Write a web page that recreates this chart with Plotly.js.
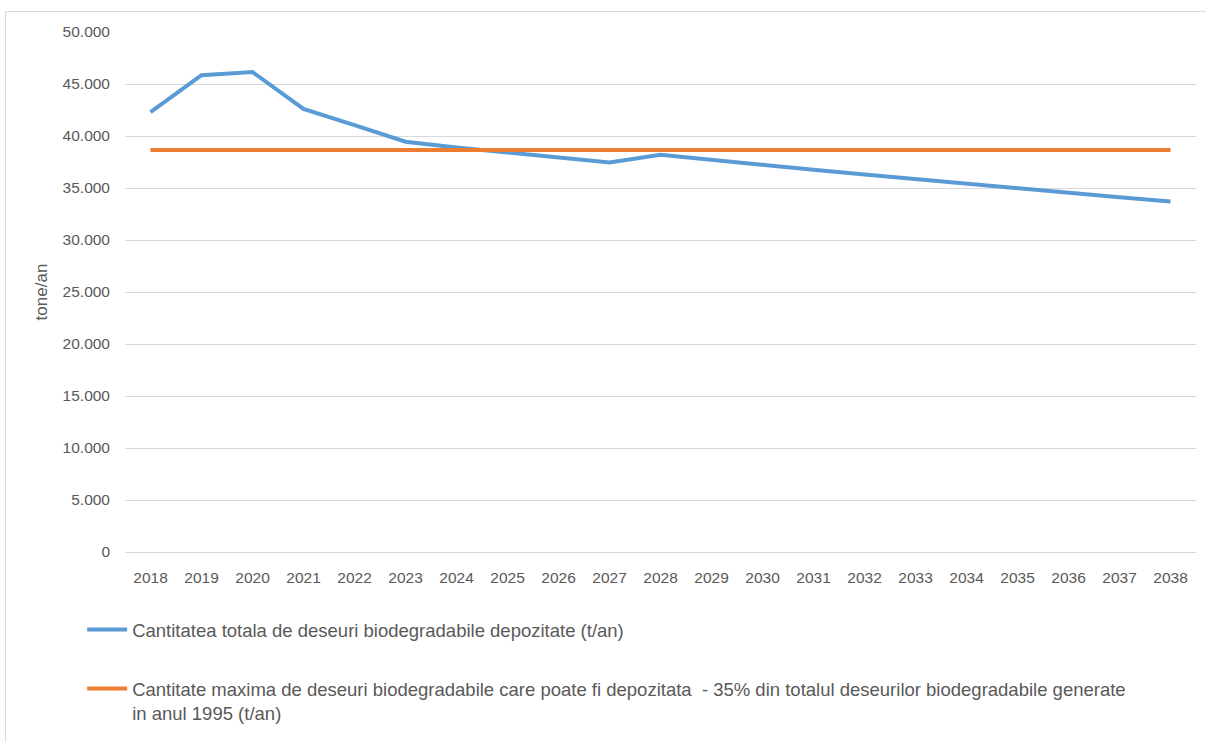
<!DOCTYPE html>
<html>
<head>
<meta charset="utf-8">
<script src="https://cdn.plot.ly/plotly-3.0.1.min.js"></script>
<style>
  html, body { margin: 0; padding: 0; background: #fff; }
  #frame { position: absolute; left: 5px; top: 11px; width: 1210px; height: 740px; border-left: 1px solid #d9d9d9; border-top: 1px solid #d9d9d9; }
  #chart { position: absolute; left: 0; top: 0; width: 1206px; height: 742px; }
</style>
</head>
<body>
<div id="frame"></div>
<div id="chart"></div>
<script>
const years = ['2018','2019','2020','2021','2022','2023','2024','2025','2026','2027','2028',
               '2029','2030','2031','2032','2033','2034','2035','2036','2037','2038'];
const totalDeposited = [42300, 45850, 46150, 42600, 41050, 39450, 38900, 38400, 37900, 37450, 38200,
                        37700, 37250, 36750, 36300, 35850, 35400, 34950, 34500, 34100, 33700];
const maxAllowed = [38650, 38650, 38650, 38650, 38650, 38650, 38650, 38650, 38650, 38650, 38650,
                    38650, 38650, 38650, 38650, 38650, 38650, 38650, 38650, 38650, 38650];
const seriesNames = [
  'Cantitatea totala de deseuri biodegradabile depozitate (t/an)',
  'Cantitate maxima de deseuri biodegradabile care poate fi depozitata \u00a0- 35% din totalul deseurilor biodegradabile generate<br>in anul 1995 (t/an)'
];
const yTicks = [0, 5000, 10000, 15000, 20000, 25000, 30000, 35000, 40000, 45000, 50000];

const fontFam = 'Liberation Sans, Arial, sans-serif';
const txtCol = '#595959';

const traces = [
  { x: years, y: totalDeposited, name: seriesNames[0], type: 'scatter', mode: 'lines',
    legendgroup: 'a', line: { color: '#5b9bd5', width: 4, shape: 'linear' } },
  { x: years, y: maxAllowed, name: seriesNames[1], type: 'scatter', mode: 'lines',
    legendgroup: 'b', line: { color: '#ed7d31', width: 4 } }
];

const layout = {
  width: 1206, height: 742,
  margin: { l: 125, r: 10, t: 32, b: 190 },
  paper_bgcolor: 'rgba(0,0,0,0)', plot_bgcolor: 'rgba(0,0,0,0)',
  separators: ',.',
  font: { family: fontFam, color: txtCol, size: 15 },
  showlegend: true,
  xaxis: {
    type: 'category', tickmode: 'array', tickvals: years, ticktext: years,
    showgrid: false, zeroline: false, showline: true, linecolor: '#d9d9d9', linewidth: 1,
    ticks: '', ticklabelstandoff: 11, tickfont: { size: 15.5, color: txtCol },
    range: [-0.5, years.length - 0.5], fixedrange: true
  },
  yaxis: {
    range: [0, 50000], tickmode: 'array', tickvals: yTicks, tickformat: ',d',
    showgrid: true, gridcolor: '#d9d9d9', gridwidth: 1, zeroline: false, showline: false,
    ticks: '', ticklabelstandoff: 14, tickfont: { size: 15.5, color: txtCol },
    title: { text: 'tone/an', font: { size: 17, color: txtCol }, standoff: 10 },
    fixedrange: true
  },
  legend: {
    orientation: 'v', x: -0.04, xanchor: 'left', yref: 'container', y: 0.1765, yanchor: 'top',
    font: { size: 18.5, color: txtCol }, tracegroupgap: 32, valign: 'top',
    itemwidth: 40, bgcolor: 'rgba(0,0,0,0)'
  }
};

Plotly.newPlot('chart', traces, layout, { displayModeBar: false, staticPlot: true });
</script>
</body>
</html>
